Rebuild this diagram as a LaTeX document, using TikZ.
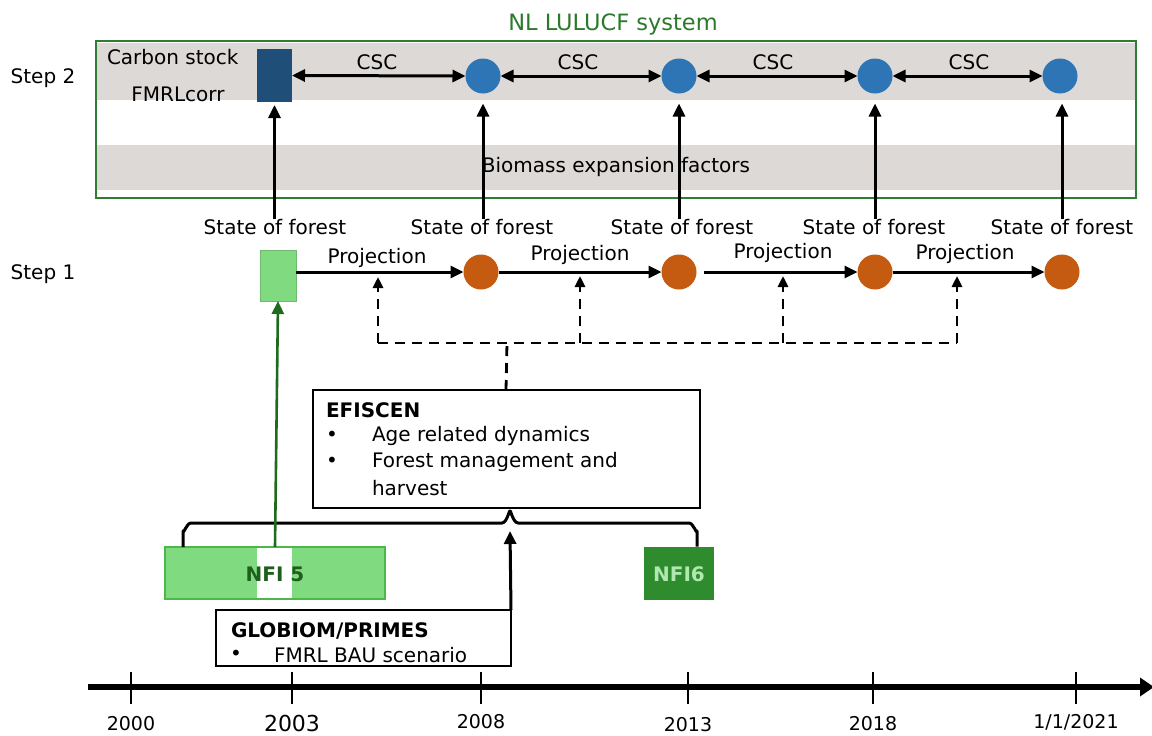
\documentclass[tikz,border=0pt]{standalone}
\usepackage{fontspec}
\setmainfont{DejaVu Sans}
\usetikzlibrary{arrows.meta,calc}
\definecolor{frameg}{HTML}{2E7D32}
\definecolor{titleg}{HTML}{2A7A2A}
\definecolor{bandgray}{HTML}{DCD9D6}
\definecolor{darkblue}{HTML}{1F4E79}
\definecolor{cblue}{HTML}{2E75B6}
\definecolor{corange}{HTML}{C55A11}
\definecolor{lgreen}{HTML}{80DA80}
\definecolor{lgborder}{HTML}{4CB84C}
\definecolor{nfitxt}{HTML}{1E5F1E}
\definecolor{fgreen}{HTML}{2E8B2E}
\definecolor{nfi6txt}{HTML}{B0E8B0}
\definecolor{garrow}{HTML}{1E6B1E}
\begin{document}
\begin{tikzpicture}[x=1pt,y=-1pt,
  every node/.style={inner sep=0pt,outer sep=0pt},
  txt/.style={font=\fontsize{20}{24}\selectfont},
  btxt/.style={font=\fontsize{20}{24}\selectfont\bfseries},
  arr/.style={line width=3pt,-{Triangle[length=13pt,width=12pt]}},
  darr/.style={line width=3pt,{Triangle[length=13pt,width=12pt]}-{Triangle[length=13pt,width=12pt]}},
  dsh/.style={line width=2.8pt,dash pattern=on 10pt off 7pt},
  dsharr/.style={dsh,-{Triangle[length=11pt,width=10pt]}},
  bluec/.style={circle,fill=cblue,minimum size=35pt},
  orangec/.style={circle,fill=corange,minimum size=35pt},
  boxw/.style={draw=black,line width=2pt,fill=white},
  tick/.style={line width=2.6pt},
  year/.style={font=\fontsize{19}{22}\selectfont}
]
\useasboundingbox (0,0) rectangle (1152,736);

% title and frame
\node[txt,text=titleg,font=\fontsize{22.5}{26}\selectfont] (title) at (613,24) {NL LULUCF system};
\fill[bandgray] (96,43) rectangle (1136,100);
\fill[bandgray] (96,145) rectangle (1136,190);
\draw[frameg,line width=2pt] (96,41) rectangle (1136,198);

% step labels
\node[txt] (s2) at (43,78) {Step 2};
\node[txt] (s1) at (43,274) {Step 1};

% step 2 row
\node[txt,anchor=west] (cs) at (107,57) {Carbon stock};
\node[txt] (fm) at (178,94) {FMRLcorr};
\node[fill=darkblue,minimum width=35pt,minimum height=53pt] (r2) at (274.5,75.5) {};
\node[bluec] (b1) at (483,76) {};
\node[bluec] (b2) at (679,76) {};
\node[bluec] (b3) at (875,76) {};
\node[bluec] (b4) at (1060,76) {};
\draw[darr] (r2.east) -- (b1.west);
\draw[darr] (b1.east) -- (b2.west);
\draw[darr] (b2.east) -- (b3.west);
\draw[darr] (b3.east) -- (b4.west);
\node[txt] (csc1) at (377,62) {CSC};
\node[txt] (csc2) at (578,62) {CSC};
\node[txt] (csc3) at (773,62) {CSC};
\node[txt] (csc4) at (969,62) {CSC};
\node[txt] (bef) at (616,167) {Biomass expansion factors};

% state of forest labels
\node[txt] (sf1) at (275,227) {State of forest};
\node[txt] (sf2) at (482,227) {State of forest};
\node[txt] (sf3) at (682,227) {State of forest};
\node[txt] (sf4) at (874,227) {State of forest};
\node[txt] (sf5) at (1062,227) {State of forest};
\draw[arr] (r2.south |- sf1.north) -- ([yshift=-3pt]r2.south);
\draw[arr] (b1.south |- sf2.north) -- ([yshift=-10pt]b1.south);
\draw[arr] (b2.south |- sf3.north) -- ([yshift=-10pt]b2.south);
\draw[arr] (b3.south |- sf4.north) -- ([yshift=-10pt]b3.south);
\draw[arr] ([xshift=2pt]b4.south |- sf5.north) -- ([xshift=2pt,yshift=-10pt]b4.south);

% step 1 row
\node[fill=lgreen,draw=lgreen!85!black,line width=0.6pt,minimum width=36pt,minimum height=51pt] (g1) at (278,275.5) {};
\node[orangec] (o1) at (481,272) {};
\node[orangec] (o2) at (679,272) {};
\node[orangec] (o3) at (875,272) {};
\node[orangec] (o4) at (1062,272) {};
\draw[arr] (g1.east |- o1.west) -- (o1.west);
\draw[arr] (o1.east) -- (o2.west);
\draw[arr] ([xshift=7pt]o2.east) -- (o3.west);
\draw[arr] (o3.east) -- (o4.west);
\node[txt] (pr1) at (377,258) {Projection};
\node[txt] (pr2) at (580,255) {Projection};
\node[txt] (pr3) at (783,253) {Projection};
\node[txt] (pr4) at (965,254) {Projection};

% dashed EFISCEN links
\coordinate (p1) at (378,277);
\coordinate (p2) at (580,276);
\coordinate (p3) at (783,276);
\coordinate (p4) at (957,276);
\coordinate (d1) at (378,343);
\coordinate (d2) at (580,343);
\coordinate (d3) at (783,343);
\coordinate (d4) at (957,343);
\coordinate (dm) at (507,343);
\draw[dsh] (d1) -- (d4);
\draw[dsharr] (d1) -- (p1);
\draw[dsharr] (d2) -- (p2);
\draw[dsharr] (d3) -- (p3);
\draw[dsharr] (d4) -- (p4);

% EFISCEN box
\node[boxw,minimum width=387pt,minimum height=118pt] (efi) at (506,449) {};
\draw[dsh] (efi.north) -- (dm);
\node[btxt,anchor=west] (efit) at (326,410) {EFISCEN};
\node[txt,anchor=west] (eb1) at (326,436) {•};
\node[txt,anchor=west] (ea1) at (372,436) {Age related dynamics};
\node[txt,anchor=west] (eb2) at (326,462) {•};
\node[txt,anchor=west] (ea2) at (372,462) {Forest management and};
\node[txt,anchor=west] (ea3) at (372,488) {harvest};

% NFI boxes
\node[fill=lgreen,minimum width=220pt,minimum height=52pt] (nfi5) at (275,573) {};
\fill[white] (257,547) rectangle (292,599);
\draw[lgborder,line width=1.6pt] (nfi5.north west) rectangle (nfi5.south east);
\node[btxt,text=nfitxt] (nfi5t) at (275,574) {NFI 5};
\node[fill=fgreen,minimum width=70pt,minimum height=53pt] (nfi6) at (679,573) {};
\node[btxt,text=nfi6txt] (nfi6t) at (679,574) {NFI6};
\coordinate (br6) at (697,546.5);

% brace
\draw[line width=3pt,line join=round]
  ($(nfi5.north west)+(18,0)$) -- ++(0,-16) to[out=-90,in=180] ++(8,-8)
  -- (502,523) to[out=0,in=90] (510,512) to[out=90,in=180] (518,523)
  -- (689,523) to[out=0,in=-90] (697,531) -- (br6);

% green arrow NFI5 -> step1 rect
\draw[garrow,line width=2.6pt,-{Triangle[length=13pt,width=12pt]}] (275,547) -- (g1.south);

% GLOBIOM box
\node[boxw,minimum width=295pt,minimum height=56pt] (glob) at (363.5,638) {};
\node[btxt,anchor=west] (globt) at (231,631) {GLOBIOM/PRIMES};
\node[txt,anchor=west] (gb1) at (230,655) {•};
\node[txt,anchor=west] (ga1) at (274,655) {FMRL BAU scenario};
\coordinate (cusp) at (510,531);
\draw[arr] (glob.north east) -- (cusp);

% timeline
\coordinate (tl0) at (88,687);
\coordinate (tl1) at (1154,687);
\draw[line width=6pt,-{Triangle[length=14pt,width=18pt]}] (tl0) -- (tl1);
\foreach \x in {131,292,481,688,873,1076}{\draw[tick] (\x,672) -- (\x,704);}
\node[year] (y00) at (131,724) {2000};
\node[year,font=\fontsize{22}{24}\selectfont] (y03) at (292,723) {2003};
\node[year] (y08) at (481,722) {2008};
\node[year] (y13) at (688,725) {2013};
\node[year] (y18) at (873,724) {2018};
\node[year] (y21) at (1076,722) {1/1/2021};
\end{tikzpicture}
\end{document}
